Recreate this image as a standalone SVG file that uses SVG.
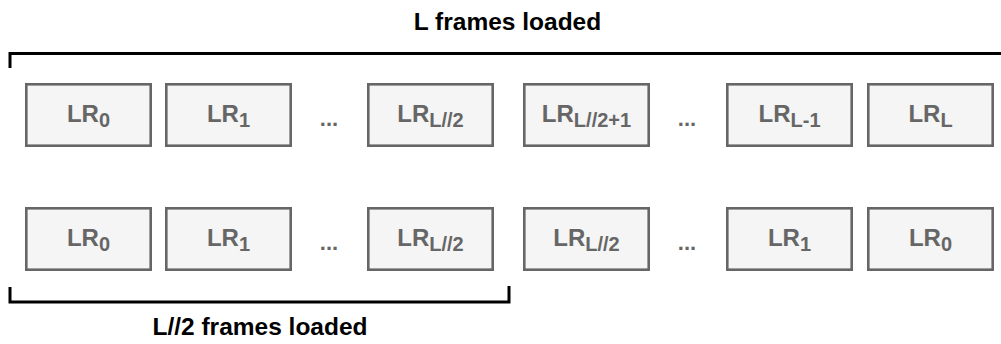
<svg xmlns="http://www.w3.org/2000/svg" width="1001" height="344" viewBox="0 0 1001 344">
  <style>
    .box rect { fill: #f5f5f5; stroke: #666666; stroke-width: 2.6; }
    .lbl { font-family: "Liberation Sans", Arial, sans-serif; font-weight: bold; font-size: 24px; fill: #666666; text-anchor: middle; }
    .sub { font-size: 20px; }
    .dots { font-family: "Liberation Sans", Arial, sans-serif; font-weight: bold; font-size: 22px; fill: #666666; text-anchor: middle; }
    .title { font-family: "Liberation Sans", Arial, sans-serif; font-weight: bold; font-size: 24.5px; fill: #000000; text-anchor: middle; }
    .bracket { fill: none; stroke: #000000; stroke-width: 3; }
  </style>

  <!-- headings -->
  <text class="title" x="507.5" y="30">L frames loaded</text>
  <text class="title" x="260" y="335">L//2 frames loaded</text>

  <!-- brackets -->
  <g id="connectors">
    <path class="bracket" d="M10,68 V53.5 H1001"/>
    <path class="bracket" d="M10,287 V302 H509 V286"/>
  </g>

  <!-- row 1: frames in order -->
  <g id="r1-lr0" class="box"><rect x="26.3" y="84.3" width="124.4" height="61.4"/><text class="lbl" x="88.5" y="122">LR<tspan class="sub" dy="5">0</tspan></text></g>
  <g id="r1-lr1" class="box"><rect x="166.3" y="84.3" width="124.4" height="61.4"/><text class="lbl" x="228.5" y="122">LR<tspan class="sub" dy="5">1</tspan></text></g>
  <text class="dots" x="329" y="126">...</text>
  <g id="r1-lrhalf" class="box"><rect x="368.3" y="84.3" width="124.4" height="61.4"/><text class="lbl" x="430.5" y="122">LR<tspan class="sub" dy="5">L//2</tspan></text></g>
  <g id="r1-lrhalf1" class="box"><rect x="524.3" y="84.3" width="124.4" height="61.4"/><text class="lbl" x="586.5" y="122">LR<tspan class="sub" dy="5">L//2+1</tspan></text></g>
  <text class="dots" x="687" y="126">...</text>
  <g id="r1-lrlm1" class="box"><rect x="727.3" y="84.3" width="124.4" height="61.4"/><text class="lbl" x="789.5" y="122">LR<tspan class="sub" dy="5">L-1</tspan></text></g>
  <g id="r1-lrl" class="box"><rect x="868.3" y="84.3" width="124.4" height="61.4"/><text class="lbl" x="930.5" y="122">LR<tspan class="sub" dy="5">L</tspan></text></g>

  <!-- row 2: first half mirrored -->
  <g id="r2-lr0" class="box"><rect x="26.3" y="208.3" width="124.4" height="61.4"/><text class="lbl" x="88.5" y="246">LR<tspan class="sub" dy="5">0</tspan></text></g>
  <g id="r2-lr1" class="box"><rect x="166.3" y="208.3" width="124.4" height="61.4"/><text class="lbl" x="228.5" y="246">LR<tspan class="sub" dy="5">1</tspan></text></g>
  <text class="dots" x="329" y="250">...</text>
  <g id="r2-lrhalf" class="box"><rect x="368.3" y="208.3" width="124.4" height="61.4"/><text class="lbl" x="430.5" y="246">LR<tspan class="sub" dy="5">L//2</tspan></text></g>
  <g id="r2-lrhalf-b" class="box"><rect x="524.3" y="208.3" width="124.4" height="61.4"/><text class="lbl" x="586.5" y="246">LR<tspan class="sub" dy="5">L//2</tspan></text></g>
  <text class="dots" x="687" y="250">...</text>
  <g id="r2-lr1-b" class="box"><rect x="727.3" y="208.3" width="124.4" height="61.4"/><text class="lbl" x="789.5" y="246">LR<tspan class="sub" dy="5">1</tspan></text></g>
  <g id="r2-lr0-b" class="box"><rect x="868.3" y="208.3" width="124.4" height="61.4"/><text class="lbl" x="930.5" y="246">LR<tspan class="sub" dy="5">0</tspan></text></g>
</svg>
